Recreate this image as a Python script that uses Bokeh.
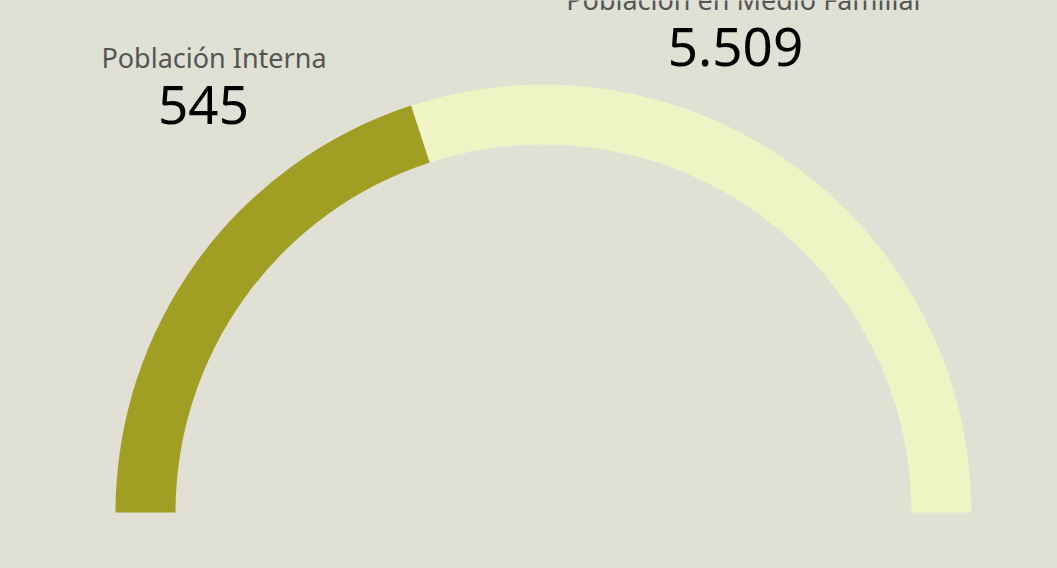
import math
from bokeh.plotting import figure
from bokeh.models import Range1d, ColumnDataSource, LabelSet
from bokeh.core.properties import value
from bokeh.embed import file_html
from bokeh.resources import INLINE

# ---- data ----
categories = ["Población Interna", "Población en Medio Familiar"]
values = [545, 5509]
value_labels = ["545", "5.509"]
arc_share = [0.40, 0.60]          # share of the half-circle each segment covers
colors = ["#a19f23", "#eff4c4"]

# ---- layout constants (pixels, centre of gauge at origin) ----
BG = "#e0e0d4"
R_OUT, R_IN = 428, 368
W, H = 1041, 552
x0 = -543
y_top = 512
p = figure(width=W, height=H, output_backend="svg", toolbar_location=None,
           x_range=Range1d(x0, x0 + W), y_range=Range1d(y_top - H, y_top),
           min_border=0)
p.axis.visible = False
p.grid.visible = False
p.outline_line_color = None
p.background_fill_color = BG
p.border_fill_color = BG

# wedge angles: start at left (180 deg) and go clockwise
starts, ends = [], []
cur = math.pi
for s in arc_share:
    nxt = cur - s * math.pi
    starts.append(nxt)
    ends.append(cur)
    cur = nxt

src = ColumnDataSource(dict(x=[0] * len(categories), y=[0] * len(categories),
                            start=starts, end=ends, color=colors))
p.annular_wedge(x="x", y="y", inner_radius=R_IN, outer_radius=R_OUT,
                start_angle="start", end_angle="end", fill_color="color",
                line_color=None, source=src)

# label anchors (layout)
label_x = [-329.5, 202]
label_y = [445, 503]
number_x = [-340, 192]
number_y = [389, 447]

lab_src = ColumnDataSource(dict(x=label_x, y=label_y, text=categories))
num_src = ColumnDataSource(dict(x=number_x, y=number_y, text=value_labels))

p.add_layout(LabelSet(x="x", y="y", text="text", source=lab_src,
                      text_font=value("Noto Sans"), text_font_size=value("27px"),
                      text_color="#555555",
                      text_align="center", text_baseline="alphabetic"))
p.add_layout(LabelSet(x="x", y="y", text="text", source=num_src,
                      text_font=value("Noto Sans"), text_font_size=value("53px"),
                      text_color="#000000",
                      text_align="center", text_baseline="alphabetic"))

html = file_html(p, INLINE)
html = html.replace("</head>", "<style>html,body{background-color:%s;}</style></head>" % BG, 1)
open("out.html", "w").write(html)
